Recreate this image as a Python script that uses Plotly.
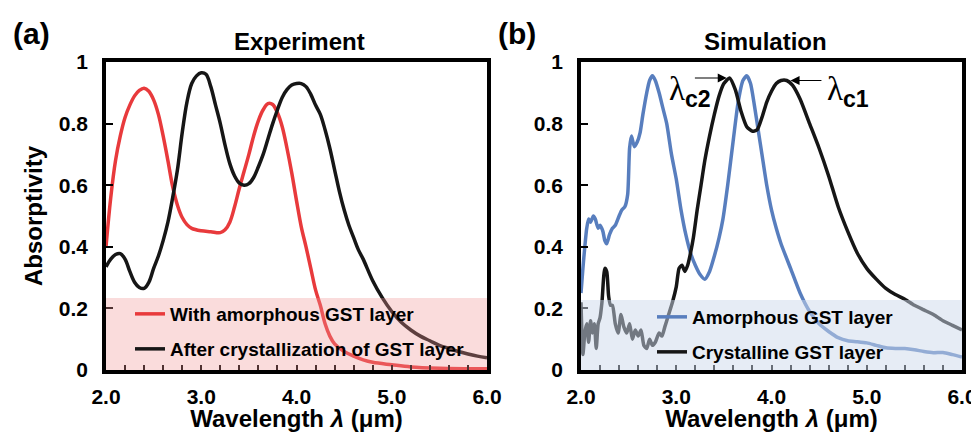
import plotly.graph_objects as go

# ---------------- data ----------------
exp_red_x = [2.00, 2.05, 2.10, 2.15, 2.20, 2.25, 2.30, 2.35, 2.40, 2.45, 2.50, 2.55, 2.60, 2.65,
             2.70, 2.75, 2.80, 2.85, 2.90, 3.00, 3.10, 3.20, 3.25, 3.30, 3.35, 3.40, 3.45, 3.50,
             3.55, 3.60, 3.65, 3.70, 3.75, 3.80, 3.85, 3.90, 3.95, 4.00, 4.05, 4.10, 4.15, 4.20,
             4.25, 4.30, 4.35, 4.40, 4.50, 4.60, 4.70, 4.80, 5.00, 5.20, 5.50, 6.00]
exp_red_y = [0.40, 0.56, 0.68, 0.76, 0.82, 0.86, 0.89, 0.908, 0.915, 0.905, 0.877, 0.83, 0.76, 0.68,
             0.595, 0.535, 0.495, 0.472, 0.46, 0.452, 0.449, 0.446, 0.455, 0.48, 0.53, 0.59, 0.645, 0.70,
             0.76, 0.81, 0.845, 0.865, 0.862, 0.835, 0.79, 0.72, 0.64, 0.55, 0.465, 0.40, 0.33, 0.26,
             0.21, 0.15, 0.11, 0.085, 0.06, 0.045, 0.033, 0.025, 0.017, 0.01, 0.006, 0.004]

exp_blk_x = [2.00, 2.05, 2.10, 2.15, 2.20, 2.25, 2.30, 2.35, 2.40, 2.45, 2.50, 2.55, 2.60, 2.65,
             2.70, 2.75, 2.80, 2.85, 2.90, 2.95, 3.00, 3.05, 3.10, 3.15, 3.20, 3.25, 3.30, 3.35,
             3.40, 3.45, 3.50, 3.55, 3.60, 3.65, 3.70, 3.75, 3.80, 3.85, 3.90, 3.95, 4.00, 4.05,
             4.10, 4.15, 4.20, 4.25, 4.30, 4.35, 4.40, 4.45, 4.50, 4.55, 4.60, 4.65, 4.70, 4.80,
             4.90, 5.00, 5.10, 5.20, 5.30, 5.40, 5.50, 5.60, 5.70, 5.80, 5.90, 6.00]
exp_blk_y = [0.335, 0.36, 0.375, 0.378, 0.36, 0.32, 0.285, 0.268, 0.265, 0.285, 0.33, 0.37, 0.42, 0.48,
             0.56, 0.65, 0.77, 0.87, 0.93, 0.955, 0.965, 0.96, 0.92, 0.86, 0.80, 0.73, 0.67, 0.63,
             0.607, 0.60, 0.605, 0.625, 0.66, 0.70, 0.75, 0.80, 0.845, 0.885, 0.91, 0.925, 0.93, 0.93,
             0.92, 0.895, 0.86, 0.83, 0.78, 0.72, 0.65, 0.58, 0.52, 0.47, 0.43, 0.39, 0.36, 0.29,
             0.235, 0.19, 0.155, 0.13, 0.11, 0.095, 0.08, 0.07, 0.06, 0.052, 0.045, 0.04]

sim_blue_x = [2.00, 2.02, 2.04, 2.06, 2.08, 2.10, 2.13, 2.15, 2.18, 2.20, 2.23, 2.25, 2.27, 2.30,
              2.33, 2.36, 2.40, 2.43, 2.46, 2.49, 2.51, 2.53, 2.56, 2.59, 2.62, 2.65, 2.69, 2.72,
              2.75, 2.78, 2.82, 2.86, 2.90, 2.95, 3.00, 3.05, 3.10, 3.15, 3.20, 3.25, 3.30, 3.35,
              3.40, 3.45, 3.49, 3.54, 3.60, 3.65, 3.70, 3.74, 3.78, 3.82, 3.86, 3.90, 3.95, 4.00,
              4.05, 4.10, 4.20, 4.30, 4.40, 4.50, 4.60, 4.70, 4.80, 4.90, 5.00, 5.10, 5.20, 5.30,
              5.40, 5.50, 5.60, 5.70, 5.80, 5.90, 6.00]
sim_blue_y = [0.25, 0.33, 0.40, 0.46, 0.49, 0.48, 0.50, 0.49, 0.46, 0.47, 0.45, 0.42, 0.41, 0.44,
              0.46, 0.47, 0.50, 0.52, 0.53, 0.57, 0.72, 0.76, 0.725, 0.74, 0.77, 0.83, 0.90, 0.94,
              0.955, 0.94, 0.90, 0.85, 0.80, 0.70, 0.62, 0.52, 0.44, 0.38, 0.34, 0.31, 0.295, 0.32,
              0.37, 0.43, 0.49, 0.60, 0.75, 0.87, 0.94, 0.955, 0.93, 0.86, 0.78, 0.70, 0.60, 0.52,
              0.46, 0.41, 0.33, 0.25, 0.19, 0.15, 0.125, 0.105, 0.095, 0.092, 0.088, 0.08, 0.072, 0.07,
              0.07, 0.066, 0.06, 0.056, 0.057, 0.05, 0.042]

sim_blk_x = [2.00, 2.02, 2.04, 2.06, 2.08, 2.10, 2.12, 2.14, 2.16, 2.18, 2.20, 2.22, 2.25, 2.27,
             2.29, 2.31, 2.33, 2.36, 2.39, 2.42, 2.45, 2.48, 2.51, 2.54, 2.57, 2.60, 2.63, 2.66,
             2.69, 2.72, 2.75, 2.78, 2.82, 2.85, 2.88, 2.92, 2.96, 3.00, 3.03, 3.06, 3.09, 3.12,
             3.15, 3.18, 3.22, 3.26, 3.30, 3.35, 3.40, 3.45, 3.50, 3.56, 3.62, 3.68, 3.74, 3.80,
             3.85, 3.90, 3.95, 4.00, 4.05, 4.10, 4.16, 4.22, 4.30, 4.40, 4.50, 4.60, 4.70, 4.80,
             4.90, 5.00, 5.10, 5.20, 5.30, 5.40, 5.50, 5.60, 5.70, 5.80, 5.90, 6.00]
sim_blk_y = [0.22, 0.05, 0.12, 0.15, 0.09, 0.16, 0.12, 0.15, 0.07, 0.15, 0.17, 0.22, 0.33, 0.32,
             0.24, 0.21, 0.21, 0.15, 0.12, 0.18, 0.14, 0.12, 0.15, 0.10, 0.13, 0.11, 0.13, 0.08,
             0.07, 0.10, 0.08, 0.09, 0.12, 0.11, 0.14, 0.18, 0.22, 0.27, 0.33, 0.34, 0.32, 0.34,
             0.38, 0.43, 0.52, 0.60, 0.68, 0.76, 0.83, 0.89, 0.93, 0.948, 0.91, 0.84, 0.79, 0.775,
             0.78, 0.82, 0.87, 0.905, 0.93, 0.94, 0.94, 0.925, 0.88, 0.80, 0.72, 0.63, 0.53, 0.45,
             0.38, 0.33, 0.295, 0.265, 0.245, 0.23, 0.21, 0.195, 0.18, 0.16, 0.145, 0.13]

x_ticks = [2, 3, 4, 5, 6]
y_ticks = [0, 0.2, 0.4, 0.6, 0.8, 1]

# ---------------- styling ----------------
FONT = "Liberation Sans, Arial, sans-serif"
RED = "rgb(232,58,60)"
BLACK = "rgb(22,22,22)"
BLUE = "rgb(88,126,190)"

fig = go.Figure()
fig.add_trace(go.Scatter(x=exp_red_x, y=exp_red_y, mode="lines", name="With amorphous GST layer",
                         line=dict(color=RED, width=3.5, shape="spline", smoothing=1),
                         xaxis="x", yaxis="y", legend="legend"))
fig.add_trace(go.Scatter(x=exp_blk_x, y=exp_blk_y, mode="lines", name="After crystallization of GST layer",
                         line=dict(color=BLACK, width=3.5, shape="spline", smoothing=1),
                         xaxis="x", yaxis="y", legend="legend2"))
fig.add_trace(go.Scatter(x=sim_blue_x, y=sim_blue_y, mode="lines", name="Amorphous GST layer",
                         line=dict(color=BLUE, width=3.5, shape="spline", smoothing=0.6),
                         xaxis="x2", yaxis="y2", legend="legend3"))
fig.add_trace(go.Scatter(x=sim_blk_x, y=sim_blk_y, mode="lines", name="Crystalline GST layer",
                         line=dict(color=BLACK, width=3.5, shape="spline", smoothing=0.6),
                         xaxis="x2", yaxis="y2", legend="legend4"))

L, R, T, B = 106, 9, 62, 62
W, H = 971, 432
PW = W - L - R
PH = H - T - B


def px(xp):
    return (xp - L) / PW


def py(yp):
    return (H - B - yp) / PH


def bold(size):
    return dict(family=FONT, size=size, color="black", weight="bold")


axis_common = dict(showline=True, linecolor="black", linewidth=3.5, mirror=True,
                   showgrid=False, zeroline=False, ticks="inside", tickcolor="black",
                   tickfont=bold(21), ticklabeloverflow="allow")

xa = dict(axis_common, range=[2, 6], tickvals=x_ticks, tickformat=".1f", ticklen=5, tickwidth=2,
          ticklabelstandoff=5, automargin=True,
          minor=dict(dtick=0.2, ticks="inside", ticklen=5, tickwidth=2, tickcolor="black", showgrid=False),
          title=dict(text="Wavelength <i>λ</i> (μm)", font=bold(24), standoff=1))
ya = dict(axis_common, range=[0, 1], tickvals=y_ticks, ticklen=7, tickwidth=2, ticklabelstandoff=10)

fig.update_layout(
    width=W, height=H,
    margin=dict(l=L, r=R, t=T, b=B, autoexpand=False),
    paper_bgcolor="white", plot_bgcolor="white",
    xaxis=dict(xa, domain=[0, (487 - L) / PW], anchor="y"),
    yaxis=dict(ya, domain=[0, 1], anchor="x",
               title=dict(text="Absorptivity", font=bold(24), standoff=10)),
    xaxis2=dict(xa, domain=[(581 - L) / PW, 1], anchor="y2"),
    yaxis2=dict(ya, domain=[0, 1], anchor="x2"),
    showlegend=True,
)

for name, xp, yp in [("legend", 130, 314), ("legend2", 130, 349), ("legend3", 652, 317), ("legend4", 652, 352)]:
    fig.update_layout({name: dict(x=px(xp), y=py(yp), xanchor="left", yanchor="middle",
                                  bgcolor="rgba(0,0,0,0)", borderwidth=0, font=bold(19),
                                  itemclick=False, itemdoubleclick=False)})

# translucent legend boxes spanning the lower part of each panel
fig.add_shape(type="rect", xref="x domain", yref="y", x0=0, x1=1, y0=0, y1=0.234,
              fillcolor="rgba(240,150,150,0.33)", line=dict(width=0), layer="above")
fig.add_shape(type="rect", xref="x2 domain", yref="y2", x0=0, x1=1, y0=0, y1=0.227,
              fillcolor="rgba(205,218,236,0.5)", line=dict(width=0), layer="above")

# panel labels and titles
for txt, xp, yp, size in [("(a)", 31, 33, 30), ("(b)", 517, 33, 30),
                          ("Experiment", 299, 41, 24), ("Simulation", 765, 41, 24)]:
    fig.add_annotation(text=txt, xref="paper", yref="paper", x=px(xp), y=py(yp),
                       xanchor="center", yanchor="middle", showarrow=False, font=bold(size))

# peak markers
lam_font = dict(family="Liberation Serif, DejaVu Serif, serif", size=33, color="black")
sub = '<sub><b><span style="font-family:Liberation Sans">%s</span></b></sub>'
fig.add_annotation(text="λ" + sub % "c2", xref="x2", yref="y2", x=2.90, y=0.905, xanchor="left",
                   yanchor="middle", showarrow=False, font=lam_font)
fig.add_annotation(text="λ" + sub % "c1", xref="x2", yref="y2", x=4.56, y=0.905, xanchor="left",
                   yanchor="middle", showarrow=False, font=lam_font)
fig.add_annotation(text="", xref="x2", yref="y2", x=3.53, y=0.948, axref="x2", ayref="y2", ax=3.18, ay=0.948,
                   showarrow=True, arrowhead=2, arrowsize=1.5, arrowwidth=1.2, arrowcolor="black")
fig.add_annotation(text="", xref="x2", yref="y2", x=4.20, y=0.94, axref="x2", ayref="y2", ax=4.54, ay=0.94,
                   showarrow=True, arrowhead=2, arrowsize=1.5, arrowwidth=1.2, arrowcolor="black")

fig.write_html("out.html")
